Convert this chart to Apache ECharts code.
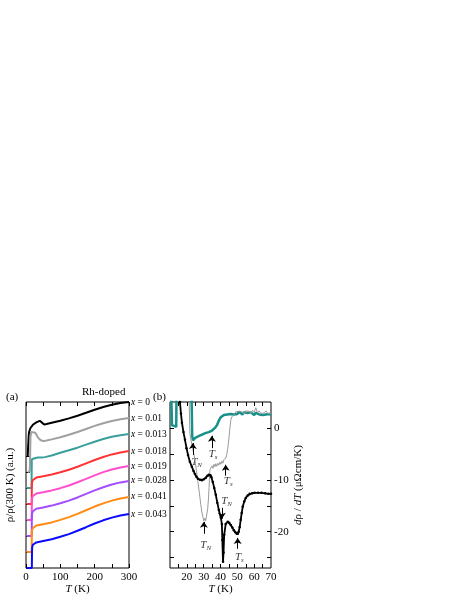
<!DOCTYPE html>
<html><head><meta charset="utf-8">
<script src="https://cdn.jsdelivr.net/npm/echarts@6/dist/echarts.min.js"></script>
<style>html,body{margin:0;padding:0;background:#fff}#c{width:463px;height:599px}</style>
</head><body><div id="c"></div>
<script>
// ---------- Panel (a): rho/rho(300K), offset curves (1 unit per doping) ----------
const dopings = ['0', '0.01', '0.013', '0.018', '0.019', '0.028', '0.041', '0.043'];
const colorsA = ['#000000', '#a0a0a0', '#3a9e9a', '#ff3333', '#ff4fcc', '#a34dff', '#ff8a14', '#0a0aff'];
const rho_x0 = [[5,7.0],[6,7.5],[8,8.3],[9,8.5],[13,8.75],[20,8.95],[30,9.1],[40,9.2],[46,9.1],[53,8.97],[60,9.0],[75,9.08],[100,9.2],[125,9.35],[150,9.52],[175,9.7],[200,9.89],[225,10.06],[250,10.2],[275,10.31],[300,10.375]];
const rho_x01 = [[5,6.0],[11,6.05],[12,7.0],[13,8.2],[15,8.5],[20,8.6],[27,8.45],[35,8.15],[42,8.0],[50,7.93],[60,7.97],[75,8.04],[100,8.17],[125,8.33],[150,8.5],[175,8.69],[200,8.88],[225,9.05],[250,9.19],[275,9.3],[300,9.375]];
const rho_x013 = [[2,5.0],[16,5.0],[16.5,6.0],[17,6.8],[20,6.87],[28,6.87],[35,6.9],[40,6.95],[45,6.9],[55,6.93],[75,7.03],[100,7.2],[125,7.36],[150,7.52],[175,7.71],[200,7.89],[225,8.06],[250,8.2],[275,8.3],[300,8.375]];
const rho_x018 = [[2,4.0],[16.5,4.0],[17,5.0],[17.5,5.35],[20,5.5],[25,5.6],[30,5.65],[50,5.73],[75,5.84],[100,5.98],[125,6.14],[150,6.33],[175,6.54],[200,6.75],[225,6.94],[250,7.1],[275,7.22],[300,7.31]];
const rho_x019 = [[2,3.0],[16.5,3.0],[17,4.0],[17.5,4.35],[20,4.5],[25,4.6],[30,4.65],[50,4.73],[75,4.85],[100,4.99],[125,5.16],[150,5.36],[175,5.57],[200,5.79],[225,5.99],[250,6.16],[275,6.28],[300,6.375]];
const rho_x028 = [[2,2.0],[16.5,2.0],[17,3.1],[17.5,3.4],[20,3.55],[25,3.65],[30,3.7],[50,3.78],[75,3.9],[100,4.05],[125,4.21],[150,4.41],[175,4.63],[200,4.85],[225,5.05],[250,5.22],[275,5.35],[300,5.44]];
const rho_x041 = [[2,1.0],[16.5,1.0],[17,2.1],[17.5,2.35],[20,2.5],[25,2.6],[30,2.65],[50,2.74],[75,2.85],[100,3.01],[125,3.18],[150,3.38],[175,3.61],[200,3.84],[225,4.04],[250,4.21],[275,4.34],[300,4.44]];
const rho_x043 = [[2,0.0],[17,0.0],[17.5,1.0],[18,1.3],[20,1.45],[25,1.55],[30,1.6],[50,1.69],[75,1.8],[100,1.95],[125,2.12],[150,2.33],[175,2.55],[200,2.78],[225,2.98],[250,3.15],[275,3.28],[300,3.375]];
const rhoSets = [rho_x0, rho_x01, rho_x013, rho_x018, rho_x019, rho_x028, rho_x041, rho_x043];
const T_LABELS_A = [0, 100, 200, 300];
const T_TICKS_A = [0, 50, 100, 150, 200, 250, 300];
const OFFSET_TICKS = [0, 1, 2, 3, 4, 5, 6, 7];

// ---------- Panel (b): d rho / dT (μΩcm/K) ----------
const drho_black = [[15.3,8],[15.9,5],[16.5,2.8],[17.1,1],[18,-0.8],[18.9,-2.3],[19.8,-3.9],[20.7,-5.2],[21.8,-6.5],[23.0,-7.5],[24.0,-8.3],[24.8,-8.9],[25.7,-9.4],[26.6,-9.8],[27.8,-10.0],[28.9,-10.1],[30.1,-9.9],[31.3,-9.6],[32.3,-9.2],[33.1,-9.0],[34.0,-9.1],[34.6,-9.5],[35.4,-10.4],[36.3,-11.6],[37.2,-12.9],[38.1,-14.4],[39.0,-15.8],[40.2,-17.3],[40.8,-18.5],[41.1,-21.6],[41.5,-25.8],[41.8,-24],[42.2,-20.6],[43.1,-18.5],[44.3,-18.1],[45.2,-18.3],[46.1,-18.7],[47.0,-19.2],[47.9,-19.7],[48.8,-20.1],[49.6,-20.4],[50.3,-20.4],[50.8,-20.0],[51.4,-19.1],[52.0,-17.7],[52.6,-16.4],[53.2,-15.2],[54.1,-14.2],[55.0,-13.5],[56.2,-13.0],[57.3,-12.7],[58.8,-12.6],[60.3,-12.5],[62.3,-12.5],[64.4,-12.5],[66.5,-12.6],[68.5,-12.7],[70,-12.7]];
const drho_gray = [[21.2,8],[21.8,-1],[22.5,-2.4],[23.3,-3.6],[24.0,-4.8],[24.8,-6.2],[25.7,-8.2],[26.6,-10.4],[27.4,-12.4],[28.3,-14.8],[28.9,-16.2],[29.5,-17.1],[30.1,-17.9],[30.7,-17.4],[31.2,-17.9],[31.6,-17.2],[31.9,-16.6],[32.4,-15.5],[32.8,-13.9],[33.2,-11.5],[33.7,-8.1],[34.3,-7.9],[34.9,-7.3],[35.5,-7.8],[36.1,-7.0],[36.7,-7.5],[37.2,-6.9],[37.8,-7.4],[38.4,-6.8],[39.0,-7.2],[39.6,-6.6],[40.2,-7.0],[40.8,-6.4],[41.4,-6.8],[42.0,-6.1],[42.6,-6.4],[43.2,-5.8],[43.7,-5.2],[44.3,-4.0],[44.9,-2.3],[45.5,-0.3],[46.1,1.5],[46.7,2.1],[47.3,2.4],[48,2.6],[49,3.1],[50,2.8],[51,3.2],[52,2.9],[53,3.1],[54,2.7],[55,3.3],[56,3.0],[57,3.2],[58,2.8],[59,3.4],[60,3.0],[61,3.9],[62,2.9],[63,3.3],[64,2.8],[65,3.1],[66,2.9],[67,3.3],[68,2.8],[69,3.0],[70,2.8]];
const drho_teal = [[10.6,8],[11.2,0.5],[11.6,0.2],[12.5,0.4],[13.3,0.3],[13.7,0.2],[13.9,8],[22.7,8],[23.2,-1.5],[23.6,-2.4],[24,-2.3],[25,-1.9],[26,-2.1],[27,-1.6],[28,-1.8],[29,-1.3],[30,-1.5],[31,-1.0],[32,-1.2],[33,-0.8],[34,-0.9],[35,-0.5],[36,-0.4],[37,0.1],[38,0.6],[39,1.4],[40,2.0],[41,2.3],[42,2.5],[43,2.8],[44,2.6],[45,2.9],[46,2.7],[47,3.0],[48,2.6],[49,2.9],[50,2.7],[51,3.1],[52,2.8],[53,2.6],[54,3.0],[55,2.7],[56,2.9],[57,2.6],[58,3.0],[59,2.8],[60,2.5],[61,2.9],[62,2.7],[63,2.6],[64,2.9],[65,2.5],[66,2.8],[67,2.6],[68,2.4],[69,2.7],[70,2.5]];
const T_LABELS_B = [20, 30, 40, 50, 60, 70];
const T_TICKS_B = [15, 20, 25, 30, 35, 40, 45, 50, 55, 60, 65];
const DRHO_LABELS = [-20, -10, 0];
const DRHO_TICKS = [-25, -20, -15, -10, -5, 0];

// annotations (arrows + T_N / T_s labels), in data coordinates of panel (b)
const annT = [23.6, 34.9, 43.1, 30.1, 40.8, 50.2];
const annFrom = [-5.2, -3.9, -9.2, -20.4, -15.4, -23.3];
const annTo = [-2.9, -1.5, -7.1, -18.1, -17.5, -21.2];
const annLabelT = [25.8, 35.6, 44.6, 31.2, 43.6, 51.2];
const annLabelY = [-6.6, -5.0, -10.2, -22.5, -14.2, -24.9];
const annSub = ['N', 's', 's', 'N', 'N', 's'];

const FONT = 'Liberation Serif';
const richT = {
  i: {fontFamily: FONT, fontSize: 11, fontStyle: 'italic', color: '#000', lineHeight: 13},
  s: {fontFamily: FONT, fontSize: 7, fontStyle: 'italic', color: '#000', lineHeight: 7, verticalAlign: 'bottom', padding: [6, 0, 0, 0]}
};
const richX = {
  i: {fontFamily: FONT, fontSize: 9.5, fontStyle: 'italic', color: '#000'}
};

const chart = echarts.init(document.getElementById('c'), null, {renderer: 'canvas'});

const tickStyle = {show: true, inside: true, length: 4, lineStyle: {color: '#000', width: 1}};
const labelStyle = {fontFamily: FONT, fontSize: 11, color: '#000'};
const noLine = {show: false, onZero: false};

const seriesA = rhoSets.map((d, i) => ({
  type: 'line', xAxisIndex: 0, yAxisIndex: 0, data: d, showSymbol: false,
  lineStyle: {color: colorsA[i], width: 2}, itemStyle: {color: colorsA[i]},
  animation: false, silent: true,
  endLabel: {show: true, distance: 2, formatter: '{i|x} = ' + dopings[i],
    fontFamily: FONT, fontSize: 9.5, color: '#000', rich: richX}
}));

const option = {
  animation: false,
  grid: [
    {left: 26, top: 402, width: 103, height: 166, show: true, borderColor: '#000', borderWidth: 1, backgroundColor: 'transparent'},
    {left: 170, top: 402, width: 101, height: 166, show: true, borderColor: '#000', borderWidth: 1, backgroundColor: 'transparent'}
  ],
  xAxis: [
    {type: 'value', gridIndex: 0, min: 0, max: 300, position: 'bottom',
     axisLine: noLine, splitLine: {show: false},
     axisTick: Object.assign({customValues: T_TICKS_A}, tickStyle),
     axisLabel: Object.assign({customValues: T_LABELS_A, margin: 4}, labelStyle),
     name: '{i|T} (K)', nameLocation: 'middle', nameGap: 16,
     nameTextStyle: {fontFamily: FONT, fontSize: 11, color: '#000', rich: {i: {fontFamily: FONT, fontSize: 11, fontStyle: 'italic'}}}},
    {type: 'value', gridIndex: 0, min: 0, max: 300, position: 'top',
     axisLine: noLine, splitLine: {show: false},
     axisTick: Object.assign({customValues: T_TICKS_A}, tickStyle), axisLabel: {show: false}},
    {type: 'value', gridIndex: 1, min: 10, max: 70, position: 'bottom',
     axisLine: noLine, splitLine: {show: false},
     axisTick: Object.assign({customValues: T_TICKS_B}, tickStyle),
     axisLabel: Object.assign({customValues: T_LABELS_B, margin: 4}, labelStyle),
     name: '{i|T} (K)', nameLocation: 'middle', nameGap: 16,
     nameTextStyle: {fontFamily: FONT, fontSize: 11, color: '#000', rich: {i: {fontFamily: FONT, fontSize: 11, fontStyle: 'italic'}}}},
    {type: 'value', gridIndex: 1, min: 10, max: 70, position: 'top',
     axisLine: noLine, splitLine: {show: false},
     axisTick: Object.assign({customValues: T_TICKS_B}, tickStyle), axisLabel: {show: false}}
  ],
  yAxis: [
    {type: 'value', gridIndex: 0, min: 0, max: 10.375, position: 'left',
     axisLine: noLine, splitLine: {show: false},
     axisTick: Object.assign({customValues: OFFSET_TICKS}, tickStyle), axisLabel: {show: false},
     name: 'ρ/ρ(300 K) (a.u.)', nameLocation: 'middle', nameGap: 10, nameRotate: 90,
     nameTextStyle: {fontFamily: FONT, fontSize: 11, color: '#000'}},
    {type: 'value', gridIndex: 1, min: -27, max: 5, position: 'left',
     axisLine: noLine, splitLine: {show: false},
     axisTick: Object.assign({customValues: DRHO_TICKS}, tickStyle), axisLabel: {show: false}},
    {type: 'value', gridIndex: 1, min: -27, max: 5, position: 'right',
     axisLine: noLine, splitLine: {show: false},
     axisTick: Object.assign({customValues: DRHO_TICKS}, tickStyle),
     axisLabel: Object.assign({customValues: DRHO_LABELS, margin: 3}, labelStyle),
     name: '{i|d}ρ / {i|dT} (μΩcm/K)', nameLocation: 'middle', nameGap: 22, nameRotate: 90,
     nameTextStyle: {fontFamily: FONT, fontSize: 11, color: '#000', rich: {i: {fontFamily: FONT, fontSize: 11, fontStyle: 'italic'}}}}
  ],
  series: seriesA.concat([
    {type: 'line', xAxisIndex: 2, yAxisIndex: 1, data: drho_teal, showSymbol: false, silent: true,
     lineStyle: {color: '#17918a', width: 2.5}},
    {type: 'line', xAxisIndex: 2, yAxisIndex: 1, data: drho_gray, showSymbol: false, silent: true,
     lineStyle: {color: '#9a9a9a', width: 1}},
    {type: 'line', xAxisIndex: 2, yAxisIndex: 1, data: drho_black, showSymbol: true, symbol: 'circle', symbolSize: 2.5, silent: true,
     itemStyle: {color: '#000'}, lineStyle: {color: '#000', width: 1.8},
     markLine: {silent: true, animation: false, symbol: ['none', 'arrow'], symbolSize: 6,
       lineStyle: {color: '#000', width: 1, type: 'solid'}, itemStyle: {color: '#000'}, label: {show: false},
       data: annT.map((t, k) => [{coord: [t, annFrom[k]]}, {coord: [t, annTo[k]]}])}},
    {type: 'scatter', xAxisIndex: 2, yAxisIndex: 1, symbolSize: 0, silent: true,
     data: annLabelT.map((t, k) => ({value: [t, annLabelY[k]],
       label: {show: true, position: 'inside', formatter: '{i|T}{s|' + annSub[k] + '}', rich: richT}}))}
  ]),
  graphic: [
    {type: 'text', left: 6, top: 392, style: {text: '(a)', fontFamily: FONT, fontSize: 11, fill: '#000'}},
    {type: 'text', left: 153, top: 392, style: {text: '(b)', fontFamily: FONT, fontSize: 11, fill: '#000'}},
    {type: 'text', left: 82, top: 387, style: {text: 'Rh-doped', fontFamily: FONT, fontSize: 11, fill: '#000'}}
  ]
};
chart.setOption(option);
</script>
</body></html>
